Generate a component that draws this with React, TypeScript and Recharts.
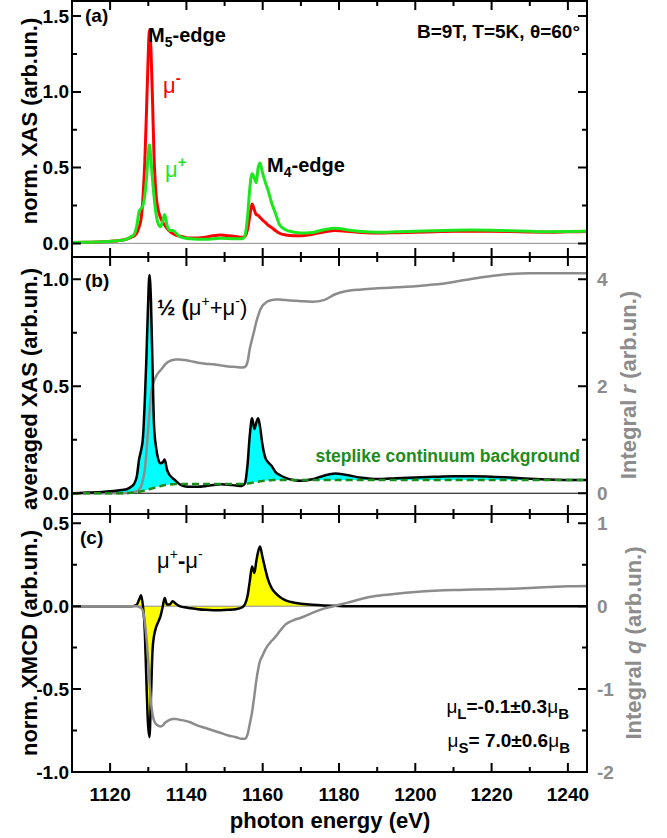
import React from "react";
import { ComposedChart, Line, Area, XAxis, YAxis, ReferenceLine } from "recharts";

// photon energy grid (eV), denser around the M5 and M4 edges
const energy = [
  1110, 1114, 1118, 1121, 1123, 1124.5, 1125.5, 1126.3, 1127, 1127.6,
  1128.1, 1128.6, 1129.1, 1129.5, 1129.9, 1130.3, 1130.7, 1131.1, 1131.5, 1132,
  1132.6, 1133.2, 1133.8, 1134.3, 1134.9, 1135.6, 1136.4, 1137.2, 1138.2, 1139.5,
  1141, 1143, 1145, 1147, 1149, 1151, 1153, 1154.5, 1155.3, 1156,
  1156.6, 1157.2, 1157.8, 1158.3, 1158.8, 1159.3, 1159.9, 1160.6, 1161.4, 1162.3,
  1163.3, 1164.5, 1166, 1168, 1170, 1173, 1176, 1179, 1182, 1186,
  1190, 1195, 1200, 1205, 1210, 1215, 1220, 1225, 1230, 1235,
  1240, 1245,
];

// (a) norm. XAS
const muMinus = [
  0.005, 0.007, 0.01, 0.015, 0.02, 0.03, 0.04, 0.05, 0.07, 0.11,
  0.16, 0.3, 0.55, 0.85, 1.18, 1.41, 1.28, 0.95, 0.58, 0.33,
  0.22, 0.17, 0.14, 0.12, 0.1, 0.08, 0.065, 0.055, 0.048, 0.04,
  0.035, 0.035, 0.04, 0.05, 0.055, 0.05, 0.045, 0.04, 0.045, 0.09,
  0.18, 0.26, 0.22, 0.19, 0.185, 0.17, 0.155, 0.14, 0.12, 0.105,
  0.085, 0.065, 0.055, 0.05, 0.05, 0.06, 0.075, 0.085, 0.08, 0.072,
  0.068, 0.07, 0.073, 0.077, 0.08, 0.08, 0.08, 0.078, 0.075, 0.074,
  0.076, 0.078,
];
const muPlus = [
  0.005, 0.007, 0.01, 0.015, 0.02, 0.03, 0.045, 0.06, 0.12, 0.21,
  0.23, 0.25, 0.32, 0.42, 0.56, 0.65, 0.55, 0.42, 0.31, 0.2,
  0.13, 0.11, 0.15, 0.19, 0.12, 0.085, 0.085, 0.07, 0.045, 0.035,
  0.03, 0.028, 0.028, 0.03, 0.033, 0.032, 0.03, 0.03, 0.05, 0.17,
  0.36, 0.46, 0.43, 0.4, 0.5, 0.53, 0.47, 0.41, 0.35, 0.27,
  0.2, 0.12, 0.09, 0.075, 0.068, 0.072, 0.09, 0.1, 0.09, 0.078,
  0.073, 0.076, 0.08, 0.084, 0.087, 0.088, 0.087, 0.084, 0.08, 0.077,
  0.078, 0.08,
];

// (b) averaged XAS, steplike background, integral r
const xasAvg = [
  0, 0.003, 0.006, 0.01, 0.015, 0.02, 0.03, 0.045, 0.08, 0.16,
  0.2, 0.26, 0.44, 0.63, 0.86, 1.02, 0.9, 0.6, 0.32, 0.22,
  0.16, 0.14, 0.145, 0.158, 0.11, 0.085, 0.07, 0.058, 0.042, 0.033,
  0.03, 0.03, 0.033, 0.038, 0.042, 0.04, 0.036, 0.034, 0.045, 0.13,
  0.27, 0.35, 0.3, 0.33, 0.35, 0.31, 0.23, 0.17, 0.145, 0.128,
  0.1, 0.085, 0.072, 0.062, 0.058, 0.065, 0.082, 0.092, 0.085, 0.072,
  0.066, 0.07, 0.074, 0.077, 0.079, 0.079, 0.077, 0.073, 0.068, 0.064,
  0.062, 0.062,
];
const background = [
  0, 0, 0, 0, 0, 0.001, 0.002, 0.003, 0.005, 0.007,
  0.009, 0.011, 0.013, 0.015, 0.017, 0.019, 0.021, 0.023, 0.025, 0.028,
  0.031, 0.034, 0.036, 0.038, 0.04, 0.041, 0.042, 0.043, 0.043, 0.043,
  0.043, 0.043, 0.043, 0.043, 0.043, 0.043, 0.043, 0.043, 0.043, 0.045,
  0.047, 0.049, 0.051, 0.053, 0.054, 0.056, 0.057, 0.059, 0.06, 0.061,
  0.062, 0.062, 0.062, 0.062, 0.062, 0.062, 0.062, 0.062, 0.062, 0.062,
  0.062, 0.062, 0.062, 0.062, 0.062, 0.062, 0.062, 0.062, 0.062, 0.062,
  0.062, 0.062,
];
const integralR = [
  0, 0, 0, 0, 0, 0.005, 0.01, 0.02, 0.04, 0.07,
  0.13, 0.25, 0.45, 0.75, 1.15, 1.5, 1.85, 2.0, 2.1, 2.18,
  2.25, 2.3, 2.35, 2.4, 2.44, 2.47, 2.49, 2.5, 2.5, 2.49,
  2.47, 2.44, 2.42, 2.41, 2.39, 2.37, 2.36, 2.35, 2.36, 2.45,
  2.7, 2.88, 3.05, 3.2, 3.32, 3.42, 3.5, 3.55, 3.59, 3.61,
  3.62, 3.62, 3.61, 3.6, 3.59, 3.58, 3.61, 3.72, 3.78, 3.81,
  3.83, 3.85, 3.87, 3.9, 3.95, 4.01, 4.06, 4.1, 4.11, 4.11,
  4.11, 4.11,
];

// (c) XMCD and integral q
const xmcd = [
  0, 0, 0, 0, 0, 0, 0, 0.002, 0.01, 0.04,
  0.066, 0, -0.16, -0.45, -0.7, -0.79, -0.55, -0.27, -0.18, -0.13,
  -0.095, -0.06, 0, 0.05, 0.01, 0.01, 0.03, 0.015, 0, -0.007,
  -0.012, -0.018, -0.022, -0.024, -0.024, -0.022, -0.018, -0.008, 0.01, 0.06,
  0.15, 0.24, 0.2, 0.27, 0.33, 0.36, 0.3, 0.23, 0.16, 0.11,
  0.08, 0.055, 0.035, 0.022, 0.015, 0.008, 0.004, 0.002, 0, 0,
  0, 0, 0, 0, 0, 0, 0, 0, 0, 0,
  0, 0,
];
const integralQ = [
  0, 0, 0, 0, 0, 0, 0, 0, 0, -0.01,
  -0.02, -0.06, -0.2, -0.37, -0.6, -0.9, -1.15, -1.3, -1.38, -1.42,
  -1.44, -1.45, -1.44, -1.41, -1.39, -1.37, -1.36, -1.36, -1.37, -1.38,
  -1.4, -1.44, -1.47, -1.5, -1.53, -1.56, -1.58, -1.6, -1.6, -1.55,
  -1.42, -1.28, -1.08, -0.9, -0.76, -0.66, -0.6, -0.53, -0.47, -0.42,
  -0.37, -0.3, -0.22, -0.17, -0.14, -0.08, -0.03, 0.005, 0.04, 0.09,
  0.125, 0.15, 0.17, 0.185, 0.195, 0.2, 0.205, 0.21, 0.22, 0.23,
  0.24, 0.245,
];

// axis ticks
const xTicks = [1120, 1130, 1140, 1150, 1160, 1170, 1180, 1190, 1200, 1210, 1220, 1230, 1240];
const xMajor = [1120, 1140, 1160, 1180, 1200, 1220, 1240];
const aTicks = [0, 0.25, 0.5, 0.75, 1, 1.25, 1.5];
const aMajor = [0, 0.5, 1, 1.5];
const bTicks = [0, 0.25, 0.5, 0.75, 1];
const bMajor = [0, 0.5, 1];
const rTicks = [0, 1, 2, 3, 4];
const rMajor = [0, 2, 4];
const cTicks = [-1, -0.75, -0.5, -0.25, 0, 0.25, 0.5];
const cMajor = [-1, -0.5, 0, 0.5];
const qTicks = [-2, -1.5, -1, -0.5, 0, 0.5, 1];
const qMajor = [-2, -1, 0, 1];

const W = 667;
const H = 838;
const FONT = "'Liberation Sans', Arial, sans-serif";
const GRAY = "#8c8c8c";
const X_DOMAIN: [number, number] = [1110, 1245];
const PLOT_L = 72;
const PLOT_R = 587;

// panel geometry: pixel top/bottom and the left/right y domains
const panels = [
  { top: 1, bottom: 257, dl: [-0.09, 1.6], tl: aTicks, ml: aMajor, dr: [-0.09, 1.6], tr: aTicks, mr: aMajor },
  { top: 257, bottom: 514, dl: [-0.097, 1.104], tl: bTicks, ml: bMajor, dr: [-0.388, 4.416], tr: rTicks, mr: rMajor },
  { top: 514, bottom: 772, dl: [-1, 0.556], tl: cTicks, ml: cMajor, dr: [-2, 1.112], tr: qTicks, mr: qMajor },
];

const fmt1 = (v: number) => v.toFixed(1);
const fmt0 = (v: number) => String(v);
const isIn = (list: number[], v: number) => list.some((m) => Math.abs(m - v) < 1e-6);

type Side = "left" | "right" | "bottom";

// tick label renderer: labels on major ticks only (tick marks are drawn with the frame)
function makeLabel(side: Side, majors: number[], label: (v: number) => string, color = "#000") {
  return (props: any) => {
    const x = Number(props.x);
    const y = Number(props.y);
    const v = props.payload.value;
    if (!isIn(majors, v)) return <g />;
    const st = { fontFamily: FONT, fontWeight: 700, fontSize: 19, fill: color };
    if (side === "left")
      return <text x={x - 3} y={y} textAnchor="end" dominantBaseline="central" style={st}>{label(v)}</text>;
    if (side === "right")
      return <text x={x + 10} y={y} textAnchor="start" dominantBaseline="central" style={st}>{label(v)}</text>;
    return <text x={x} y={y + 29} textAnchor="middle" style={st}>{label(v)}</text>;
  };
}

const tableA = energy.map((e, i) => ({ e, muMinus: muMinus[i], muPlus: muPlus[i] }));
const tableB = energy.map((e, i) => ({
  e,
  avg: xasAvg[i],
  bg: background[i],
  band: [background[i], Math.max(background[i], xasAvg[i])],
  r: integralR[i],
}));
const tableC = energy.map((e, i) => ({ e, xmcd: xmcd[i], q: integralQ[i] }));

const layer: React.CSSProperties = { position: "absolute", left: 0, top: 0 };

function axes(k: number, bottomLabels: boolean, rightLabels: boolean) {
  const p = panels[k];
  return [
    <XAxis key="xb" xAxisId="b" dataKey="e" type="number" domain={X_DOMAIN} allowDataOverflow ticks={xTicks}
      interval={0} hide={!bottomLabels} height={60} tickSize={0} tickMargin={0} tickLine={false}
      axisLine={false} tick={makeLabel("bottom", xMajor, fmt0)} />,
    <YAxis key="yl" yAxisId="l" type="number" domain={p.dl} allowDataOverflow ticks={p.tl} interval={0}
      width={PLOT_L} tickSize={0} tickMargin={0} tickLine={false} axisLine={false}
      tick={makeLabel("left", p.ml, fmt1)} />,
    <YAxis key="yr" yAxisId="r" orientation="right" type="number" domain={p.dr} allowDataOverflow ticks={p.tr}
      interval={0} width={W - PLOT_R} tickSize={0} tickMargin={0} tickLine={false} axisLine={false}
      tick={rightLabels ? makeLabel("right", p.mr, fmt0, GRAY) : false} />,
  ];
}

function PanelA() {
  return (
    <ComposedChart width={W} height={H} data={tableA} margin={{ top: 1, right: 0, bottom: H - 257, left: 0 }}>
      {axes(0, false, false)}
      <ReferenceLine xAxisId="b" yAxisId="l" y={0} stroke={GRAY} strokeWidth={1} />
      <Line xAxisId="b" yAxisId="l" type="monotone" dataKey="muMinus" stroke="#ff0000" strokeWidth={3}
        dot={false} activeDot={false} isAnimationActive={false} />
      <Line xAxisId="b" yAxisId="l" type="monotone" dataKey="muPlus" stroke="#1ee61e" strokeWidth={3}
        dot={false} activeDot={false} isAnimationActive={false} />
    </ComposedChart>
  );
}

function PanelB() {
  return (
    <ComposedChart width={W} height={H} data={tableB} margin={{ top: 257, right: 0, bottom: H - 514, left: 0 }}>
      {axes(1, false, true)}
      <ReferenceLine xAxisId="b" yAxisId="l" y={0} stroke="#000" strokeWidth={1} />
      <Area xAxisId="b" yAxisId="l" type="monotone" dataKey="band" stroke="none" fill="#00ffff" fillOpacity={1}
        isAnimationActive={false} activeDot={false} />
      <Line xAxisId="b" yAxisId="r" type="monotone" dataKey="r" stroke={GRAY} strokeWidth={2.5}
        dot={false} activeDot={false} isAnimationActive={false} />
      <Line xAxisId="b" yAxisId="l" type="monotone" dataKey="avg" stroke="#000" strokeWidth={2.5}
        dot={false} activeDot={false} isAnimationActive={false} />
      <Line xAxisId="b" yAxisId="l" type="monotone" dataKey="bg" stroke="#1c8c1c" strokeWidth={2.5}
        strokeDasharray="7 4" dot={false} activeDot={false} isAnimationActive={false} />
    </ComposedChart>
  );
}

function PanelC() {
  return (
    <ComposedChart width={W} height={H} data={tableC} margin={{ top: 514, right: 0, bottom: 6, left: 0 }}>
      {axes(2, true, true)}
      <ReferenceLine xAxisId="b" yAxisId="l" y={0} stroke={GRAY} strokeWidth={1} />
      <Area xAxisId="b" yAxisId="l" type="monotone" dataKey="xmcd" baseValue={0} stroke="none" fill="#ffff00"
        fillOpacity={1} isAnimationActive={false} activeDot={false} />
      <Line xAxisId="b" yAxisId="l" type="monotone" dataKey="xmcd" stroke="#000" strokeWidth={2.5}
        dot={false} activeDot={false} isAnimationActive={false} />
      <Line xAxisId="b" yAxisId="r" type="monotone" dataKey="q" stroke={GRAY} strokeWidth={2.5}
        dot={false} activeDot={false} isAnimationActive={false} />
    </ComposedChart>
  );
}

// frame ring and inward tick marks as one filled shape (even-odd)
function frameShape() {
  const sx = (e: number) => PLOT_L + ((e - X_DOMAIN[0]) / (X_DOMAIN[1] - X_DOMAIN[0])) * (PLOT_R - PLOT_L);
  const box = (x: number, y: number, w: number, h: number) =>
    `M${x.toFixed(1)},${y.toFixed(1)}h${w.toFixed(1)}v${h.toFixed(1)}h${(-w).toFixed(1)}Z`;
  let d = "";
  panels.forEach((p) => {
    const syl = (v: number) => p.bottom - ((v - p.dl[0]) / (p.dl[1] - p.dl[0])) * (p.bottom - p.top);
    const syr = (v: number) => p.bottom - ((v - p.dr[0]) / (p.dr[1] - p.dr[0])) * (p.bottom - p.top);
    // four sides
    d += box(PLOT_L - 1, p.top - 1, PLOT_R - PLOT_L + 2, 2);
    d += box(PLOT_L - 1, p.bottom - 1, PLOT_R - PLOT_L + 2, 2);
    d += box(PLOT_L - 1, p.top - 1, 2, p.bottom - p.top + 2);
    d += box(PLOT_R - 1, p.top - 1, 2, p.bottom - p.top + 2);
    xTicks.forEach((t) => {
      const len = isIn(xMajor, t) ? 9 : 5;
      const x = sx(t) - 1;
      d += box(x, p.top + 1, 2, len - 1);
      d += box(x, p.bottom - len, 2, len - 1);
    });
    p.tl.forEach((t) => {
      const len = isIn(p.ml, t) ? 9 : 5;
      d += box(PLOT_L + 1, syl(t) - 1, len - 1, 2);
    });
    p.tr.forEach((t) => {
      const len = isIn(p.mr, t) ? 9 : 5;
      d += box(PLOT_R - len, syr(t) - 1, len - 1, 2);
    });
  });
  return d;
}

function Labels() {
  const b = { fontFamily: FONT, fontWeight: 700 } as const;
  const n = { fontFamily: FONT, fontWeight: 400 } as const;
  const vtitle = (x: number, y: number, fill: string, children: React.ReactNode) => (
    <text x={x} y={y} transform={`rotate(-90 ${x} ${y})`} textAnchor="middle" dominantBaseline="central"
      fontSize={22} fill={fill} style={b}>{children}</text>
  );
  return (
    <svg width={W} height={H} style={{ ...layer, zIndex: 10, pointerEvents: "none" }}>
      <path d={frameShape()} fill="#000" fillRule="nonzero" stroke="none" />
      {vtitle(29, 121, "#000", "norm. XAS (arb.un.)")}
      {vtitle(29, 389, "#000", "averaged XAS (arb.un.)")}
      {vtitle(29, 643, "#000", "norm. XMCD (arb.un.)")}
      {vtitle(628, 385, GRAY, <>Integral <tspan fontStyle="italic">r</tspan> (arb.un.)</>)}
      {vtitle(633, 643, GRAY, <>Integral <tspan fontStyle="italic">q</tspan> (arb.un.)</>)}
      <text x={330} y={828} textAnchor="middle" fontSize={22} style={b}>photon energy (eV)</text>

      {/* panel (a) */}
      <text x={85} y={22} fontSize={19} style={b}>(a)</text>
      <text x={148} y={42} fontSize={20} style={b}>
        M<tspan fontSize={14} dy={5}>5</tspan><tspan dy={-5}>-edge</tspan>
      </text>
      <text x={163} y={93} fontSize={22} fill="#ff0000" style={n}>
        μ<tspan fontSize={15} dy={-10} fontWeight={700}>-</tspan>
      </text>
      <text x={165} y={177} fontSize={22} fill="#1ee61e" style={n}>
        μ<tspan fontSize={15} dy={-10} fontWeight={700}>+</tspan>
      </text>
      <text x={267} y={172} fontSize={20} style={b}>
        M<tspan fontSize={14} dy={5}>4</tspan><tspan dy={-5}>-edge</tspan>
      </text>
      <text x={580} y={38} textAnchor="end" fontSize={19} style={b}>B=9T, T=5K, θ=60°</text>

      {/* panel (b) */}
      <text x={85} y={287} fontSize={19} style={b}>(b)</text>
      <text x={157} y={315} fontSize={22} style={n}>
        <tspan fontWeight={700}>½ (</tspan>μ<tspan fontSize={14} dy={-9}>+</tspan>
        <tspan dy={9}>+μ</tspan><tspan fontSize={14} dy={-9}>-</tspan><tspan dy={9}>)</tspan>
      </text>
      <text x={580} y={462} textAnchor="end" fontSize={17.5} fill="#1c8c1c" style={b}>
        steplike continuum background
      </text>

      {/* panel (c) */}
      <text x={80} y={544} fontSize={19} style={b}>(c)</text>
      <text x={157} y={568} fontSize={22} style={n}>
        μ<tspan fontSize={14} dy={-9}>+</tspan><tspan dy={9} fontWeight={700}>-</tspan>μ
        <tspan fontSize={14} dy={-9}>-</tspan>
      </text>
      <text x={569} y={713} textAnchor="end" fontSize={19} style={b}>
        <tspan fontWeight={400}>μ</tspan><tspan fontSize={15} dy={6}>L</tspan>
        <tspan dy={-6}>=-0.1±0.3</tspan><tspan fontWeight={400}>μ</tspan><tspan fontSize={15} dy={6}>B</tspan>
      </text>
      <text x={570} y={747} textAnchor="end" fontSize={19} style={b}>
        <tspan fontWeight={400}>μ</tspan><tspan fontSize={15} dy={6}>S</tspan>
        <tspan dy={-6}>= 7.0±0.6</tspan><tspan fontWeight={400}>μ</tspan><tspan fontSize={15} dy={6}>B</tspan>
      </text>
    </svg>
  );
}

export default function App() {
  return (
    <div style={{ position: "absolute", left: 0, top: 0, width: W, height: H, background: "#fff", fontFamily: FONT }}>
      <div style={layer}><PanelA /></div>
      <div style={layer}><PanelB /></div>
      <div style={layer}><PanelC /></div>
      <Labels />
    </div>
  );
}
